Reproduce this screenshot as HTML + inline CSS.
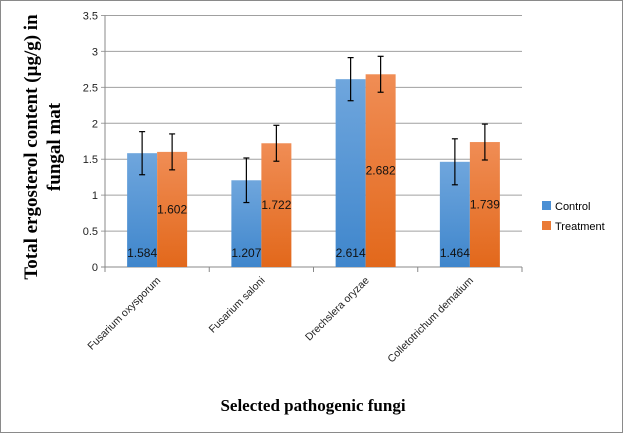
<!DOCTYPE html>
<html><head><meta charset="utf-8"><style>
body{margin:0;background:#fff}
svg{display:block}
</style></head><body>
<svg width="626" height="434" viewBox="0 0 626 434" xmlns="http://www.w3.org/2000/svg">
<defs>
<linearGradient id="gb" x1="0" y1="0" x2="0" y2="1"><stop offset="0" stop-color="#6fa6dd"/><stop offset="1" stop-color="#3f86cc"/></linearGradient>
<linearGradient id="go" x1="0" y1="0" x2="0" y2="1"><stop offset="0" stop-color="#f08d55"/><stop offset="1" stop-color="#e2681b"/></linearGradient>
</defs>
<rect x="0.5" y="0.5" width="622" height="432" fill="#fff" stroke="#8a8a8a"/>
<g id="grid"></g>
<g id="bars"></g>
<g id="xlabels"></g>
<text x="313" y="411" text-anchor="middle" font-family="Liberation Serif, serif" font-weight="bold" font-size="17">Selected pathogenic fungi</text>
<text transform="translate(37,147) rotate(-90)" text-anchor="middle" font-family="Liberation Serif, serif" font-weight="bold" font-size="19"><tspan x="0" dy="0">Total ergosterol content (µg/g) in</tspan><tspan x="0" dy="23">fungal mat</tspan></text>
<g>
<rect x="542" y="201" width="9" height="9" fill="#4a8fd4"/>
<text x="555" y="210" font-family="Liberation Sans, sans-serif" font-size="11">Control</text>
<rect x="542" y="221" width="9" height="9" fill="#ea7a35"/>
<text x="555" y="230" font-family="Liberation Sans, sans-serif" font-size="11">Treatment</text>
</g>
</svg>
<script>
const categories=["Fusarium oxysporum","Fusarium saloni","Drechslera oryzae","Colletotrichum dematium"];
const control=[1.584,1.207,2.614,1.464];
const treatment=[1.602,1.722,2.682,1.739];
const controlErr=[0.30,0.31,0.30,0.32];
const treatmentErr=[0.25,0.25,0.25,0.25];
const yTicks=[0,0.5,1,1.5,2,2.5,3,3.5];
const NS="http://www.w3.org/2000/svg";
const X0=105,X1=522,Y0=267,Y1=15.5,YMAX=3.5;
const y=v=>Y0-(v/YMAX)*(Y0-Y1);
const gw=(X1-X0)/categories.length;
const bw=30;
function mk(t,a,p){const e=document.createElementNS(NS,t);for(const k in a)e.setAttribute(k,a[k]);p.appendChild(e);return e;}
const grid=document.getElementById('grid'),bars=document.getElementById('bars'),xl=document.getElementById('xlabels');
yTicks.forEach(v=>{
 const l=mk('line',{x1:X0-4,x2:X1,y1:y(v),y2:y(v),stroke:v===0?'#888':'#a0a0a0','stroke-width':1},grid);
 
 
 const t=mk('text',{x:X0-7,y:y(v)+4,'text-anchor':'end','font-family':'Liberation Sans, sans-serif','font-size':11,fill:'#222'},grid);
 t.textContent=String(v);
 
 
});
const ax=mk('line',{x1:X0,x2:X0,y1:Y1,y2:Y0,stroke:'#888'},grid);


for(let i=0;i<=categories.length;i++){
 const tk=mk('line',{x1:X0+i*gw,x2:X0+i*gw,y1:Y0,y2:Y0+5,stroke:'#888'},grid);
 
 
}
function err(cx,v,e){
 const g=mk('g',{stroke:'#000','stroke-width':1.2},bars);
 
 
 mk('line',{x1:cx,x2:cx,y1:y(v+e),y2:y(v-e)},g);
 mk('line',{x1:cx-3,x2:cx+3,y1:y(v+e),y2:y(v+e)},g);
 mk('line',{x1:cx-3,x2:cx+3,y1:y(v-e),y2:y(v-e)},g);
}
categories.forEach((c,i)=>{
 const cx=X0+gw*(i+0.5);
 const bc=mk('rect',{x:cx-bw,y:y(control[i]),width:bw,height:Y0-y(control[i]),fill:'url(#gb)'},bars);
 
 
 const bt=mk('rect',{x:cx,y:y(treatment[i]),width:bw,height:Y0-y(treatment[i]),fill:'url(#go)'},bars);
 
 
 const lc=mk('text',{x:cx-bw/2,y:Y0-10,'text-anchor':'middle','font-family':'Liberation Sans, sans-serif','font-size':12,fill:'#111'},bars);
 lc.textContent=control[i].toFixed(3);
 
 
 const lt=mk('text',{x:cx+bw/2,y:(y(treatment[i])+Y0)/2+4,'text-anchor':'middle','font-family':'Liberation Sans, sans-serif','font-size':12,fill:'#111'},bars);
 lt.textContent=treatment[i].toFixed(3);
 
 
 err(cx-bw/2,control[i],controlErr[i]);
 err(cx+bw/2,treatment[i],treatmentErr[i]);
 const xt=mk('text',{transform:`translate(${cx+4},${Y0+14}) rotate(-45)`,'text-anchor':'end','font-family':'Liberation Sans, sans-serif','font-size':10.5,fill:'#222'},xl);
 xt.textContent=c;
 
 
});
</script>
</body></html>
